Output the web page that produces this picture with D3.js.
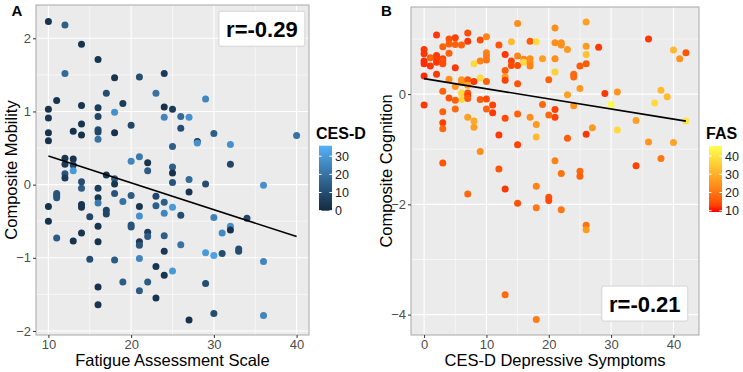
<!DOCTYPE html>
<html lang="en">
<head>
<meta charset="UTF-8">
<title>Fatigue, depression, mobility and cognition</title>
<script src="https://d3js.org/d3.v7.min.js"></script>
<style>
body { margin: 0; background: #fff; }
text { font-family: "Liberation Sans", Arial, sans-serif; }
.axis path { display: none; }
.axis line { stroke: #333; }
.axis text { font-size: 13px; fill: #4d4d4d; }
.title { font-size: 16.5px; fill: #000; }
.tag { font-size: 15px; font-weight: bold; }
.leg-title { font-size: 16px; font-weight: bold; }
.leg-label { font-size: 12.5px; fill: #1a1a1a; }
.rlab { font-size: 22px; font-weight: bold; }
</style>
</head>
<body>
<div class="container"></div>
<script>
// Panel A: Fatigue Assessment Scale vs Composite Mobility, coloured by CES-D
var fasA = [10,12,14,16,12,18,21,24,17,23,11,14,16,19,10,10,16,18,24,25,24,14,20,13,14,16,16,16,18,10,
            10,25,12,12,13,13,13,12,12,20,21,22,22,25,25,25,17,18,18,14,14,16,10,10,11,11,11,14,14,16,
            16,15,17,17,18,19,20,21,21,20,20,23,23,24,24,25,16,14,11,13,16,21,21,22,22,24,24,15,18,21,
            23,24,25,19,22,21,16,23,16,29,26,27,26,30,28,28,32,40,32,27,29,27,36,26,30,32,32,31,34,26,
            29,30,31,33,33,36,29,30,27,36];
var mobility = [2.23,2.18,1.92,1.71,1.52,1.46,1.47,1.52,1.25,1.25,1.15,1.08,1.05,1.11,1.03,0.91,0.93,0.99,1.06,1.03,
                0.92,0.83,0.81,0.73,0.68,0.75,0.72,0.62,0.71,0.71,0.60,0.52,0.36,0.28,0.35,0.27,0.19,0.15,0.09,0.32,
                0.38,0.30,0.19,0.24,0.16,0.03,0.13,0.08,0.01,0.04,-0.05,-0.05,-0.30,-0.50,-0.12,-0.15,-0.18,-0.27,-0.31,-0.18,
                -0.25,-0.44,-0.35,-0.40,-0.12,-0.23,-0.15,-0.30,-0.43,-0.55,-0.58,-0.16,-0.29,-0.24,-0.39,-0.31,-0.57,-0.66,-0.73,-0.77,
                -0.78,-0.78,-0.83,-0.65,-0.71,-0.70,-0.91,-1.02,-1.03,-1.01,-1.12,-1.24,-1.18,-1.33,-1.33,-1.45,-1.40,-1.55,-1.64,1.17,
                0.93,0.92,0.77,0.70,0.59,0.57,0.55,0.67,0.28,0.07,0.01,-0.10,-0.01,-0.42,-0.45,-0.57,-0.62,-0.66,-0.46,-0.82,
                -0.93,-0.97,-0.94,-0.88,-0.91,-1.05,-1.35,-1.76,-1.85,-1.79];
var cesdA = [3,15,3,3,18,3,10,5,10,20,3,3,5,5,3,4,8,28,2,5,25,3,8,2,2,10,8,20,2,2,
             2,15,3,5,2,8,30,12,5,25,22,3,14,15,2,12,3,15,3,10,14,6,2,2,12,12,12,3,3,3,
             22,8,8,8,12,20,14,3,28,12,12,8,15,15,25,30,3,3,14,2,2,4,12,6,14,15,4,10,14,25,
             3,3,30,14,14,14,2,3,3,25,18,28,10,15,2,28,28,20,8,18,10,3,28,10,24,28,2,26,8,20,
             30,32,10,10,10,25,10,10,2,25];

// Panel B: CES-D vs Composite Cognition, coloured by FAS
var cesdB = [15,21,2,7,4,5,3,4,5,6,7,9,10,12,14,17,18,21,0,0,0,0,0,1,1,2,2,2,2,3,
             3,3,4,5,10,10,10,9,8,13,14,14,13,15,15,16,16,17,17,17,19,21,21,4,6,6,7,8,9,10,
             13,13,15,20,5,7,3,6,6,7,7,7,4,5,9,10,11,10,11,0,3,5,3,3,7,8,8,13,15,17,
             18,19,20,21,21,18,12,15,9,3,12,13,7,18,15,18,20,20,13,18,21,26,22,22,23,26,28,26,26,25,
             24,24,25,23,24,29,31,30,36,40,42,41,38,39,37,34,42,27,26,23,31,36,40,38,34,22,25,25,22,26,26];
var cognition = [1.28,1.20,1.07,1.11,1.00,1.02,0.86,0.91,0.90,0.89,0.96,0.98,1.04,0.89,0.95,0.96,0.95,0.93,0.81,0.73,
                 0.60,0.55,0.33,0.66,0.51,0.70,0.64,0.58,0.36,0.64,0.60,0.55,0.74,0.48,0.75,0.69,0.62,0.60,0.55,0.72,
                 0.60,0.52,0.43,0.69,0.52,0.63,0.58,0.64,0.58,0.51,0.64,0.64,0.40,0.27,0.26,0.21,0.26,0.23,0.29,0.23,
                 0.31,0.25,0.19,0.26,0.14,0.16,0.05,0.02,-0.10,0.02,-0.03,-0.08,-0.07,-0.11,-0.10,-0.09,-0.20,-0.27,-0.34,-0.20,
                 -0.32,-0.27,-0.52,-0.63,-0.42,-0.49,-0.60,-0.44,-0.36,-0.42,-0.55,-0.19,-0.38,-0.42,-0.28,-0.78,-0.74,-0.92,-1.04,-1.25,
                 -1.36,-1.72,-1.81,-1.67,-1.98,-2.06,-1.87,-1.93,-3.64,-4.09,-1.21,1.31,0.93,0.89,0.81,0.87,0.85,0.72,0.55,0.51,
                 0.36,0.31,0.10,-0.01,-0.21,0.01,0.04,-0.19,1.00,0.80,0.75,0.64,0.07,-0.05,-0.16,-0.48,-0.49,-0.61,-0.73,-0.80,
                 -0.65,-0.87,-0.88,-1.17,-1.30,-1.44,-1.40,-1.49,-2.10,-2.38,-2.46];
var fasB = [24,24,12,14,15,13,17,17,17,17,12,14,22,15,32,16,38,24,12,12,11,11,11,17,12,12,13,12,12,13,
            15,14,17,12,22,21,20,22,38,12,13,14,16,22,14,22,38,24,24,22,27,24,36,24,25,25,16,12,38,17,
            26,13,15,17,26,28,17,38,38,15,13,16,15,17,16,14,13,17,12,12,17,18,13,18,27,29,27,14,17,24,
            26,18,18,13,13,32,12,13,24,15,15,12,18,22,15,20,15,14,18,21,22,27,24,24,26,26,12,33,16,16,
            18,18,26,27,25,12,25,44,12,32,15,25,32,32,38,27,40,26,12,16,38,25,28,20,13,19,18,17,20,19,26];

// lm lines, end points
var fitAx = [10, 40], fitAy = [0.39, -0.71];
var fitBx = [0, 42], fitBy = [0.28, -0.49];

var ticksAx = [10, 20, 30, 40], ticksAy = [-2, -1, 0, 1, 2];
var ticksBx = [0, 10, 20, 30, 40], ticksBy = [-4, -2, 0];
var legTicksA = [0, 10, 20, 30], legTicksB = [10, 20, 30, 40];

var W = 743, H = 372;
var svg = d3.select('.container').append('svg')
    .attr('width', W).attr('height', H);

function minorOf(ticks, domain) {
  var step = ticks[1] - ticks[0], out = [];
  for (var i = -1; i < ticks.length; i++) {
    var v = ticks[0] + (i + 0.5) * step;
    if (v > domain[0] && v < domain[1]) out.push(v);
  }
  return out;
}

function panel(cfg) {
  var x = d3.scaleLinear().domain(cfg.xDomain).range([cfg.left, cfg.right]);
  var y = d3.scaleLinear().domain(cfg.yDomain).range([cfg.bottom, cfg.top]);
  var g = svg.append('g');

  g.append('rect')
    .attr('x', cfg.left).attr('y', cfg.top)
    .attr('width', cfg.right - cfg.left).attr('height', cfg.bottom - cfg.top)
    .attr('fill', '#ebebeb');

  // grid
  g.selectAll('.vminor').data(minorOf(cfg.xTicks, cfg.xDomain)).enter().append('line')
    .attr('x1', x).attr('x2', x).attr('y1', cfg.top).attr('y2', cfg.bottom)
    .attr('stroke', '#fff').attr('stroke-width', 0.55);
  g.selectAll('.hminor').data(minorOf(cfg.yTicks, cfg.yDomain)).enter().append('line')
    .attr('y1', y).attr('y2', y).attr('x1', cfg.left).attr('x2', cfg.right)
    .attr('stroke', '#fff').attr('stroke-width', 0.55);
  g.selectAll('.vmajor').data(cfg.xTicks).enter().append('line')
    .attr('x1', x).attr('x2', x).attr('y1', cfg.top).attr('y2', cfg.bottom)
    .attr('stroke', '#fff').attr('stroke-width', 1.1);
  g.selectAll('.hmajor').data(cfg.yTicks).enter().append('line')
    .attr('y1', y).attr('y2', y).attr('x1', cfg.left).attr('x2', cfg.right)
    .attr('stroke', '#fff').attr('stroke-width', 1.1);

  // points
  var pts = cfg.xs.map(function(d, i) { return {x: d, y: cfg.ys[i], c: cfg.cs[i]}; });
  g.selectAll('circle').data(pts).enter().append('circle')
    .attr('cx', function(d) { return x(d.x); })
    .attr('cy', function(d) { return y(d.y); })
    .attr('r', 3.5)
    .attr('fill', function(d) { return cfg.color(d.c); });

  // fitted line
  var line = d3.line().x(function(d) { return x(d[0]); }).y(function(d) { return y(d[1]); });
  g.append('path')
    .attr('d', line(d3.zip(cfg.fitX, cfg.fitY)))
    .attr('fill', 'none').attr('stroke', '#000').attr('stroke-width', 1.6);

  g.append('rect')
    .attr('x', cfg.left).attr('y', cfg.top)
    .attr('width', cfg.right - cfg.left).attr('height', cfg.bottom - cfg.top)
    .attr('fill', 'none').attr('stroke', '#a8a8a8').attr('stroke-width', 1);

  g.append('g').attr('class', 'axis')
    .attr('transform', 'translate(0,' + cfg.bottom + ')')
    .call(d3.axisBottom(x).tickValues(cfg.xTicks).tickFormat(d3.format('d')).tickSize(3).tickPadding(1.5));
  g.append('g').attr('class', 'axis')
    .attr('transform', 'translate(' + cfg.left + ',0)')
    .call(d3.axisLeft(y).tickValues(cfg.yTicks).tickFormat(d3.format('d')).tickSize(3).tickPadding(2));

  // titles
  var cx = (cfg.left + cfg.right) / 2, cy = (cfg.top + cfg.bottom) / 2;
  g.append('text').attr('class', 'title')
    .attr('x', cx).attr('y', 366).attr('text-anchor', 'middle').text(cfg.xTitle);
  g.append('text').attr('class', 'title')
    .attr('transform', 'translate(' + cfg.yTitleX + ',' + cy + ') rotate(-90)')
    .attr('text-anchor', 'middle').text(cfg.yTitle);
  g.append('text').attr('class', 'tag')
    .attr('x', cfg.tagX).attr('y', 16).text(cfg.tag);

  // r label
  var lab = g.append('g')
    .attr('transform', 'translate(' + x(cfg.rAt[0]) + ',' + y(cfg.rAt[1]) + ')');
  lab.append('rect')
    .attr('x', -43).attr('y', -17.5).attr('width', 86).attr('height', 35)
    .attr('rx', 2).attr('fill', '#fff').attr('stroke', '#d4d4d4');
  lab.append('text').attr('class', 'rlab')
    .attr('text-anchor', 'middle').attr('y', 8).text(cfg.rText);

  // colour bar legend
  var ly = d3.scaleLinear().domain(cfg.color.domain()).range([cfg.barBottom, cfg.barTop]);
  var gid = 'grad' + cfg.tag;
  var grad = svg.append('defs').append('linearGradient').attr('id', gid)
    .attr('x1', 0).attr('x2', 0).attr('y1', 1).attr('y2', 0);
  var dom = cfg.color.domain();
  grad.selectAll('stop').data(d3.range(0, 1.0001, 0.1)).enter().append('stop')
    .attr('offset', function(d) { return d; })
    .attr('stop-color', function(d) { return cfg.color(dom[0] + d * (dom[1] - dom[0])); });
  var lg = g.append('g');
  lg.append('text').attr('class', 'leg-title')
    .attr('x', cfg.barX - 3).attr('y', 138.5).text(cfg.legTitle);
  lg.append('rect')
    .attr('x', cfg.barX).attr('y', cfg.barTop)
    .attr('width', 13).attr('height', cfg.barBottom - cfg.barTop)
    .attr('fill', 'url(#' + gid + ')');
  lg.selectAll('.lt1').data(cfg.legTicks).enter().append('line')
    .attr('x1', cfg.barX).attr('x2', cfg.barX + 2.6)
    .attr('y1', ly).attr('y2', ly).attr('stroke', '#fff');
  lg.selectAll('.lt2').data(cfg.legTicks).enter().append('line')
    .attr('x1', cfg.barX + 13 - 2.6).attr('x2', cfg.barX + 13)
    .attr('y1', ly).attr('y2', ly).attr('stroke', '#fff');
  lg.selectAll('.ll').data(cfg.legTicks).enter().append('text').attr('class', 'leg-label')
    .attr('x', cfg.barX + 16).attr('y', function(d) { return ly(d) + 4.5; })
    .text(function(d) { return d; });
}

var colorA = d3.scaleLinear().domain([0, 35.8])
  .range(['#132B43', '#56B1F7']).interpolate(d3.interpolateLab);
var colorB = d3.scaleLinear().domain([9.3, 45.5])
  .range(['#ff0000', '#ffff50']).interpolate(d3.interpolateLab);

panel({
  tag: 'A', tagX: 11.5,
  left: 36, right: 309, top: 5, bottom: 335,
  xDomain: [8.5, 41.5], yDomain: [-2.055, 2.455],
  xTicks: ticksAx, yTicks: ticksAy,
  xs: fasA, ys: mobility, cs: cesdA, color: colorA,
  fitX: fitAx, fitY: fitAy,
  xTitle: 'Fatigue Assessment Scale', yTitle: 'Composite Mobility', yTitleX: 17,
  rAt: [35.8, 2.13], rText: 'r=-0.29',
  legTitle: 'CES-D', legTicks: legTicksA, barX: 319, barTop: 145.7, barBottom: 210.7
});

panel({
  tag: 'B', tagX: 381,
  left: 411, right: 699, top: 7, bottom: 335,
  xDomain: [-2.1, 44.1], yDomain: [-4.37, 1.58],
  xTicks: ticksBx, yTicks: ticksBy,
  xs: cesdB, ys: cognition, cs: fasB, color: colorB,
  fitX: fitBx, fitY: fitBy,
  xTitle: 'CES-D Depressive Symptoms', yTitle: 'Composite Cognition', yTitleX: 392,
  rAt: [35.4, -3.8], rText: 'r=-0.21',
  legTitle: 'FAS', legTicks: legTicksB, barX: 709, barTop: 146, barBottom: 212
});
</script>
</body>
</html>
